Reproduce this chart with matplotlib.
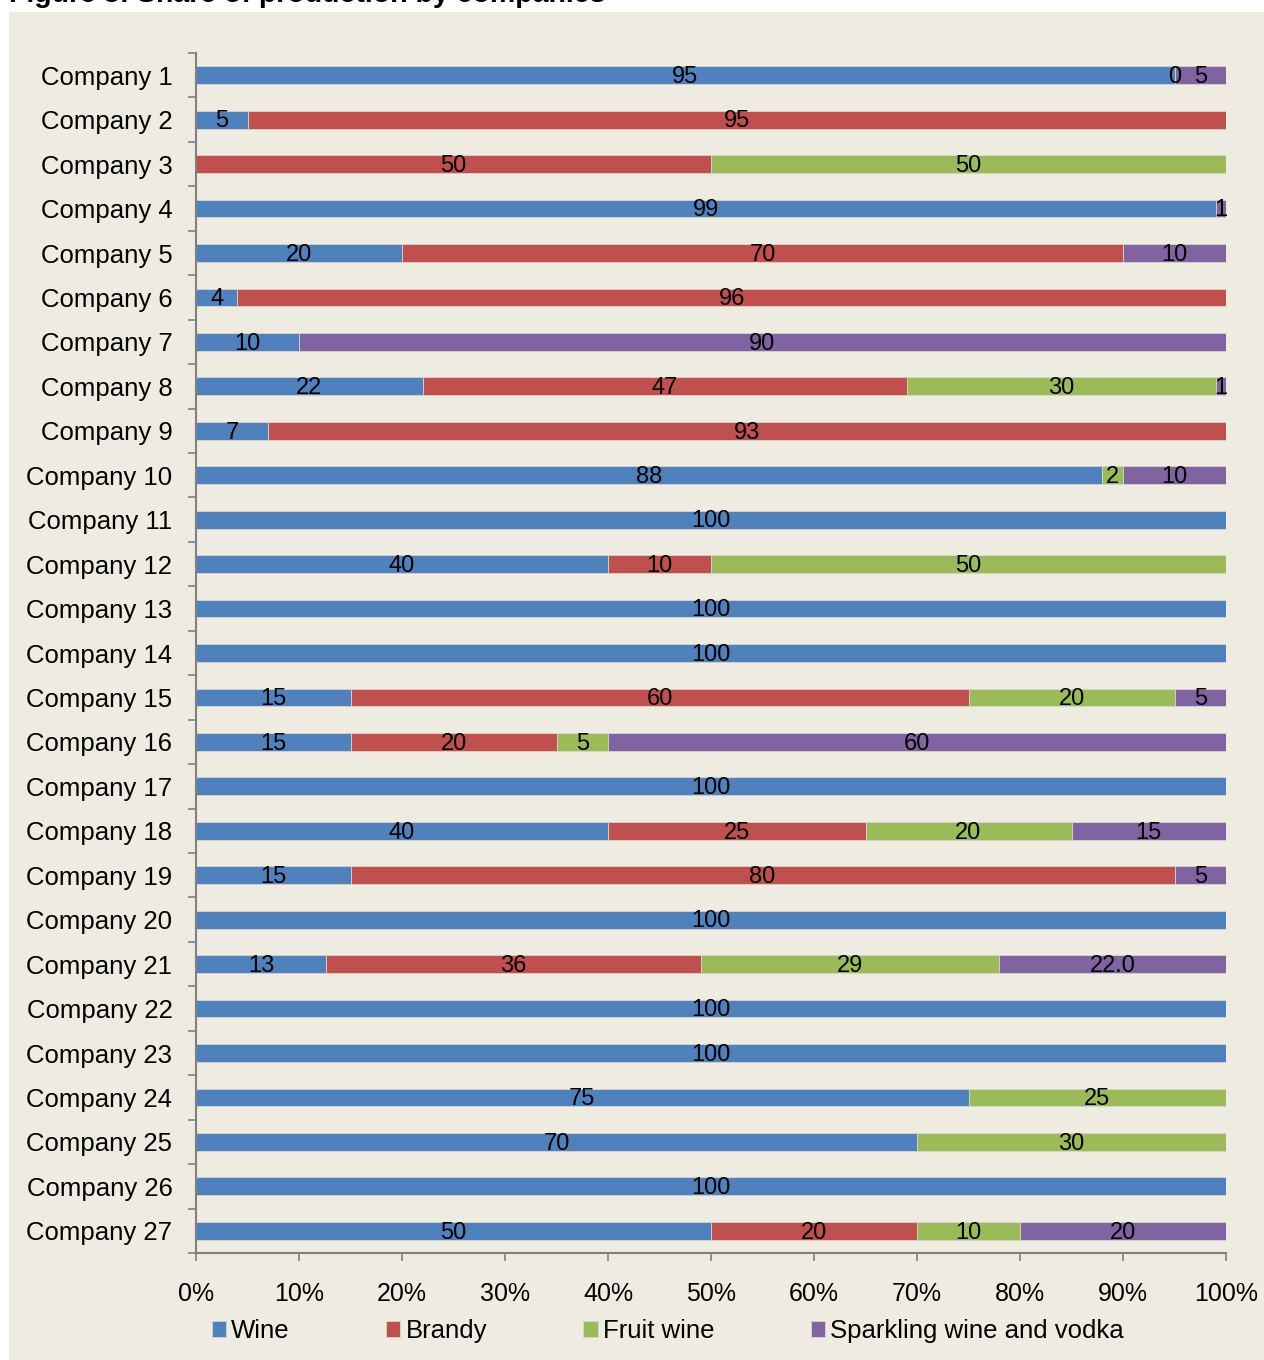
#!/usr/bin/env python3
"""Share of production by companies - stacked horizontal bar chart."""

import matplotlib

matplotlib.use("Agg")
import matplotlib.pyplot as plt
from matplotlib.patches import Rectangle
import numpy as np

COMPANIES = [f"Company {i}" for i in range(1, 28)]

# shares in percent, per company (Company 1 .. Company 27)
WINE = [95, 5, 0, 99, 20, 4, 10, 22, 7, 88, 100, 40, 100, 100, 15, 15, 100, 40, 15, 100,
        12.6, 100, 100, 75, 70, 100, 50]
BRANDY = [0, 95, 50, 0, 70, 96, 0, 47, 93, 0, 0, 10, 0, 0, 60, 20, 0, 25, 80, 0,
          36.4, 0, 0, 0, 0, 0, 20]
FRUIT_WINE = [0, 0, 50, 0, 0, 0, 0, 30, 0, 2, 0, 50, 0, 0, 20, 5, 0, 20, 0, 0,
              29, 0, 0, 25, 30, 0, 10]
SPARKLING = [5, 0, 0, 1, 10, 0, 90, 1, 0, 10, 0, 0, 0, 0, 5, 60, 0, 15, 5, 0,
             22, 0, 0, 0, 0, 0, 20]

SERIES = [
    ("Wine", WINE, "#4F81BD"),
    ("Brandy", BRANDY, "#C0504D"),
    ("Fruit wine", FRUIT_WINE, "#9BBB59"),
    ("Sparkling wine and vodka", SPARKLING, "#8064A2"),
]

# Company 1 shows an explicit zero for brandy; Company 21 has odd label formats
SPECIAL_LABELS = {(0, 1): "0", (20, 0): "13", (20, 1): "36", (20, 2): "29", (20, 3): "22.0"}

BG = "#EEEBE0"
FONT = "Liberation Sans"


def main():
    plt.rcParams["font.family"] = [FONT, "DejaVu Sans"]
    fig = plt.figure(figsize=(12.64, 13.60), dpi=100, facecolor="white")
    fig.patches.append(Rectangle((9 / 1264, 0), 1 - 9 / 1264, 1 - 12 / 1360,
                                 transform=fig.transFigure, facecolor=BG,
                                 edgecolor="none", zorder=-10))
    # title sits partly above the top edge, as in the source page crop
    fig.text(9 / 1264, 1 + 5 / 1360, "Figure 3: Share of production by companies",
             fontsize=20.5, fontweight="bold", ha="left", va="center")

    ax = fig.add_axes([196 / 1264, 107 / 1360, 1030 / 1264, 1200 / 1360])
    ax.set_facecolor(BG)

    y = np.arange(len(COMPANIES))
    left = np.zeros(len(COMPANIES))
    handles = []
    for s_idx, (name, vals, color) in enumerate(SERIES):
        vals = np.asarray(vals, dtype=float)
        bars = ax.barh(y, vals, left=left, height=0.4, color=color,
                       edgecolor="#D8D5CC", linewidth=0.6, label=name)
        handles.append(bars)
        for i, v in enumerate(vals):
            label = SPECIAL_LABELS.get((i, s_idx))
            if label is None:
                if v <= 0:
                    continue
                label = f"{v:g}"
            ax.text(left[i] + v / 2, y[i] + 0.04, label, ha="center", va="center",
                    fontsize=17, color="black")
        left += vals

    ax.set_xlim(0, 100)
    ax.set_ylim(len(COMPANIES) - 0.5, -0.5)
    ax.set_yticks(y)
    ax.set_yticklabels(COMPANIES, fontsize=18.5)
    ax.set_yticks(np.arange(len(COMPANIES) + 1) - 0.5, minor=True)
    ax.tick_params(axis="y", which="major", length=0, pad=17)
    ax.tick_params(axis="y", which="minor", length=6, color="#808080", width=1.2)
    ax.set_xticks(np.arange(0, 101, 10))
    ax.set_xticklabels([f"{t}%" for t in range(0, 101, 10)], fontsize=18)
    ax.tick_params(axis="x", length=6, color="#808080", width=1.2, pad=15)

    for side in ("top", "right"):
        ax.spines[side].set_visible(False)
    for side in ("left", "bottom"):
        ax.spines[side].set_color("#808080")
        ax.spines[side].set_linewidth(1.5)

    fig.legend(handles=handles, loc="center left",
               bbox_to_anchor=(212 / 1264, 1 - 1331 / 1360), ncol=4, frameon=False,
               fontsize=18.5, handlelength=0.55, handleheight=0.55, handletextpad=0.2,
               columnspacing=3.75, borderaxespad=0, borderpad=0)

    fig.savefig("out.png", dpi=100, facecolor=fig.get_facecolor())
    plt.close(fig)


if __name__ == "__main__":
    main()
